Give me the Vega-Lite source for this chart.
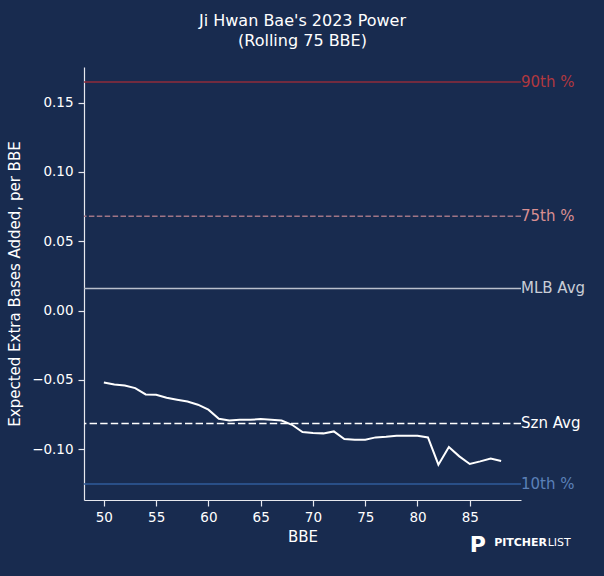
{
  "$schema": "https://vega.github.io/schema/vega-lite/v6.json",
  "width": 437,
  "height": 433,
  "autosize": "none",
  "padding": {"left": 84, "top": 67, "right": 83, "bottom": 76},
  "background": "#182b4f",
  "title": {
    "text": ["Ji Hwan Bae's 2023 Power", "(Rolling 75 BBE)"],
    "font": "DejaVu Sans",
    "fontSize": 16,
    "fontWeight": "normal",
    "color": "#ffffff",
    "lineHeight": 20,
    "anchor": "middle",
    "offset": 18
  },
  "datasets": {
    "rolling": [
      {"bbe": 50, "xeba": -0.0519},
      {"bbe": 51, "xeba": -0.0534},
      {"bbe": 52, "xeba": -0.0541},
      {"bbe": 53, "xeba": -0.0560},
      {"bbe": 54, "xeba": -0.0606},
      {"bbe": 55, "xeba": -0.0608},
      {"bbe": 56, "xeba": -0.0630},
      {"bbe": 57, "xeba": -0.0644},
      {"bbe": 58, "xeba": -0.0657},
      {"bbe": 59, "xeba": -0.0680},
      {"bbe": 60, "xeba": -0.0716},
      {"bbe": 61, "xeba": -0.0781},
      {"bbe": 62, "xeba": -0.0794},
      {"bbe": 63, "xeba": -0.0789},
      {"bbe": 64, "xeba": -0.0789},
      {"bbe": 65, "xeba": -0.0784},
      {"bbe": 66, "xeba": -0.0789},
      {"bbe": 67, "xeba": -0.0794},
      {"bbe": 68, "xeba": -0.0825},
      {"bbe": 69, "xeba": -0.0877},
      {"bbe": 70, "xeba": -0.0885},
      {"bbe": 71, "xeba": -0.0887},
      {"bbe": 72, "xeba": -0.0873},
      {"bbe": 73, "xeba": -0.0928},
      {"bbe": 74, "xeba": -0.0933},
      {"bbe": 75, "xeba": -0.0933},
      {"bbe": 76, "xeba": -0.0916},
      {"bbe": 77, "xeba": -0.0911},
      {"bbe": 78, "xeba": -0.0904},
      {"bbe": 79, "xeba": -0.0904},
      {"bbe": 80, "xeba": -0.0904},
      {"bbe": 81, "xeba": -0.0916},
      {"bbe": 82, "xeba": -0.1113},
      {"bbe": 83, "xeba": -0.0986},
      {"bbe": 84, "xeba": -0.1053},
      {"bbe": 85, "xeba": -0.1108},
      {"bbe": 86, "xeba": -0.1089},
      {"bbe": 87, "xeba": -0.1068},
      {"bbe": 88, "xeba": -0.1087}
    ],
    "refs": [
      {"label": "90th %", "value": 0.165},
      {"label": "75th %", "value": 0.068},
      {"label": "MLB Avg", "value": 0.0159},
      {"label": "Szn Avg", "value": -0.0815},
      {"label": "10th %", "value": -0.1253}
    ],
    "logo": [
      {"piece": "mark", "text": "P", "x": 85.0, "y": -0.1693},
      {"piece": "bold", "text": "PITCHER", "x": 87.33, "y": -0.1678},
      {"piece": "light", "text": "LIST", "x": 92.45, "y": -0.1678}
    ]
  },
  "layer": [
    {
      "data": {"name": "refs"},
      "mark": {"type": "rule"},
      "encoding": {
        "y": {"field": "value", "type": "quantitative"},
        "color": {
          "field": "label",
          "type": "nominal",
          "scale": {
            "domain": ["90th %", "75th %", "MLB Avg", "Szn Avg", "10th %"],
            "range": ["#8e2d3b", "#a07585", "#b9bfcc", "#ffffff", "#2f5c9c"]
          },
          "legend": null
        },
        "strokeDash": {
          "field": "label",
          "type": "nominal",
          "scale": {
            "domain": ["90th %", "75th %", "MLB Avg", "Szn Avg", "10th %"],
            "range": [[1, 0], [5.5, 2.4], [1, 0], [7.4, 3.2], [1, 0]]
          },
          "legend": null
        },
        "strokeWidth": {
          "field": "label",
          "type": "nominal",
          "scale": {
            "domain": ["90th %", "75th %", "MLB Avg", "Szn Avg", "10th %"],
            "range": [1.5, 1.5, 1.5, 2, 2]
          },
          "legend": null
        }
      }
    },
    {
      "data": {"name": "refs"},
      "mark": {"type": "text", "align": "left", "baseline": "middle", "font": "DejaVu Sans", "fontSize": 15},
      "encoding": {
        "x": {"datum": 89.9, "type": "quantitative"},
        "y": {"field": "value", "type": "quantitative"},
        "text": {"field": "label"},
        "color": {
          "field": "label",
          "type": "nominal",
          "scale": {
            "domain": ["90th %", "75th %", "MLB Avg", "Szn Avg", "10th %"],
            "range": ["#b0383f", "#d98f92", "#c9cdd6", "#ffffff", "#5b80b8"]
          },
          "legend": null
        }
      }
    },
    {
      "data": {"name": "rolling"},
      "mark": {"type": "line", "color": "#ffffff", "strokeWidth": 2},
      "encoding": {
        "x": {
          "field": "bbe",
          "type": "quantitative",
          "title": "BBE",
          "scale": {"domain": [48.1, 89.9], "nice": false, "zero": false},
          "axis": {"values": [50, 55, 60, 65, 70, 75, 80, 85]}
        },
        "y": {
          "field": "xeba",
          "type": "quantitative",
          "title": "Expected Extra Bases Added, per BBE",
          "scale": {"domain": [-0.1368, 0.1758], "nice": false, "zero": false},
          "axis": {"values": [-0.1, -0.05, 0, 0.05, 0.1, 0.15], "format": ".2f"}
        }
      }
    },
    {
      "data": {"name": "logo"},
      "transform": [{"filter": "datum.piece === 'mark'"}],
      "mark": {"type": "text", "align": "left", "baseline": "middle", "font": "DejaVu Sans", "fontSize": 22, "fontWeight": "bold", "color": "#ffffff"},
      "encoding": {
        "x": {"field": "x", "type": "quantitative"},
        "y": {"field": "y", "type": "quantitative"},
        "text": {"field": "text"}
      }
    },
    {
      "data": {"name": "logo"},
      "transform": [{"filter": "datum.piece === 'bold'"}],
      "mark": {"type": "text", "align": "left", "baseline": "middle", "font": "DejaVu Sans", "fontSize": 11, "fontWeight": "bold", "color": "#ffffff"},
      "encoding": {
        "x": {"field": "x", "type": "quantitative"},
        "y": {"field": "y", "type": "quantitative"},
        "text": {"field": "text"}
      }
    },
    {
      "data": {"name": "logo"},
      "transform": [{"filter": "datum.piece === 'light'"}],
      "mark": {"type": "text", "align": "left", "baseline": "middle", "font": "DejaVu Sans", "fontSize": 11, "fontWeight": "normal", "color": "#ffffff"},
      "encoding": {
        "x": {"field": "x", "type": "quantitative"},
        "y": {"field": "y", "type": "quantitative"},
        "text": {"field": "text"}
      }
    }
  ],
  "resolve": {"scale": {"color": "independent"}},
  "config": {
    "view": {"stroke": null},
    "axis": {
      "grid": false,
      "domainColor": "#e6e8ee",
      "domainWidth": 1.2,
      "tickColor": "#e6e8ee",
      "tickWidth": 1.2,
      "tickSize": 6,
      "labelColor": "#ffffff",
      "labelFont": "DejaVu Sans",
      "labelFontSize": 13.5,
      "labelPadding": 4,
      "titleColor": "#ffffff",
      "titleFont": "DejaVu Sans",
      "titleFontSize": 15,
      "titleFontWeight": "normal"
    },
    "axisX": {"titlePadding": 6, "labelPadding": 4},
    "axisY": {"titlePadding": 9, "labelPadding": 5}
  }
}
